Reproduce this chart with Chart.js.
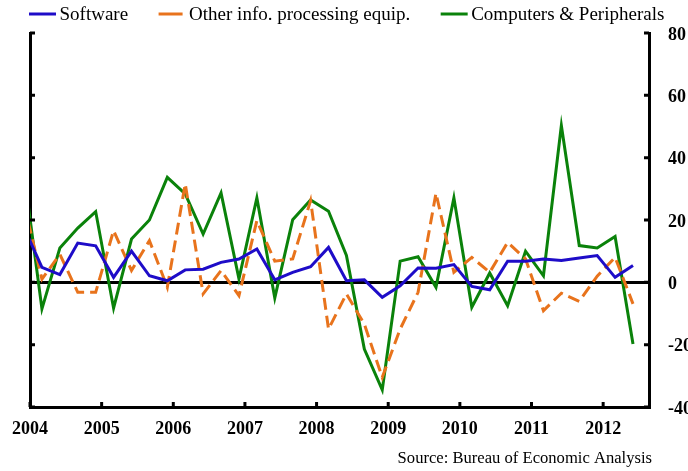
<!DOCTYPE html>
<html>
<head>
<meta charset="utf-8">
<script src="https://cdn.jsdelivr.net/npm/chart.js@4.4.1/dist/chart.umd.min.js"></script>
<style>
  html, body { margin: 0; padding: 0; background: #fff; }
  #chart { display: block; }
</style>
</head>
<body>
<canvas id="chart" width="688" height="471"></canvas>
<script>
// quarterly % change
const quarters = [
  "2003Q4",
  "2004Q1", "2004Q2", "2004Q3", "2004Q4",
  "2005Q1", "2005Q2", "2005Q3", "2005Q4",
  "2006Q1", "2006Q2", "2006Q3", "2006Q4",
  "2007Q1", "2007Q2", "2007Q3", "2007Q4",
  "2008Q1", "2008Q2", "2008Q3", "2008Q4",
  "2009Q1", "2009Q2", "2009Q3", "2009Q4",
  "2010Q1", "2010Q2", "2010Q3", "2010Q4",
  "2011Q1", "2011Q2", "2011Q3", "2011Q4",
  "2012Q1", "2012Q2"
];
const software = [17.5, 4.8, 2.5, 12.6, 11.7, 1.6, 10.0, 2.1, 0.5, 4.0, 4.2, 6.4, 7.5, 10.7, 0.8, 3.2, 5.0, 11.2, 0.5, 0.8, -4.8, -1.1, 4.6, 4.5, 5.7, -1.3, -2.4, 6.8, 6.8, 7.5, 7.0, 7.8, 8.6, 1.6, 5.4];
const otherEquip = [25, 1, 9, -3.2, -3.2, 16.6, 3.8, 13.4, -1.6, 31.6, -3.7, 3.8, -4.3, 19.8, 6.8, 7.5, 26.2, -15, -3.7, -13.4, -30.5, -15, -3.2, 28.6, 3.2, 8.0, 3.2, 12.8, 7.5, -9.1, -3.5, -6.1, 2, 8.0, -6.9];
const computers = [35, -8.5, 11.0, 17.4, 22.7, -8.3, 13.9, 20.0, 33.7, 28.4, 15.5, 28.7, 1.1, 27.1, -5.0, 20.1, 26.4, 22.8, 8.6, -21.4, -34.5, 6.8, 8.2, -1.6, 27.1, -8.0, 3.0, -7.5, 10.0, 2.1, 50.3, 11.8, 11.0, 14.7, -19.8];
const yearTicks = [2004, 2005, 2006, 2007, 2008, 2009, 2010, 2011, 2012];
const seriesNames = ["Software", "Other info. processing equip.", "Computers & Peripherals"];
const sourceNote = "Source: Bureau of Economic Analysis";

const serif = "'Liberation Serif', 'Times New Roman', serif";

// plot each quarter at its middle month
const quarterToYear = (q) => +q.slice(0, 4) + (3 * +q.slice(5) - 1) / 12;
const toPoints = (values) => values.map((v, i) => ({ x: quarterToYear(quarters[i]), y: v }));

const extras = {
  id: "extras",
  afterDraw(chart) {
    const { ctx, chartArea, scales } = chart;
    const yS = scales.y;
    const xS = scales.x;
    ctx.save();
    ctx.strokeStyle = "#000";
    ctx.lineWidth = 3;
    // inside tick marks
    yS.ticks.forEach((t) => {
      const py = yS.getPixelForValue(t.value);
      ctx.beginPath();
      ctx.moveTo(chartArea.left, py);
      ctx.lineTo(chartArea.left + 5, py);
      ctx.moveTo(chartArea.right, py);
      ctx.lineTo(chartArea.right - 5, py);
      ctx.stroke();
    });
    xS.ticks.forEach((t) => {
      const px = xS.getPixelForValue(t.value);
      ctx.beginPath();
      ctx.moveTo(px, chartArea.bottom);
      ctx.lineTo(px, chartArea.bottom - 5);
      ctx.stroke();
    });

    // legend: short solid line + label, left to right
    ctx.font = "19px " + serif;
    ctx.textBaseline = "middle";
    ctx.textAlign = "left";
    const slot = 30.5, itemGap = 30.5;
    let x = 29;
    const ly = 14;
    chart.data.datasets.forEach((ds) => {
      const len = ds.borderDash ? 24 : 27;
      ctx.strokeStyle = ds.borderColor;
      ctx.lineWidth = 3;
      ctx.beginPath();
      ctx.moveTo(x, ly);
      ctx.lineTo(x + len, ly);
      ctx.stroke();
      x += slot;
      ctx.fillStyle = "#000";
      ctx.fillText(ds.label, x, ly + 1);
      x += ctx.measureText(ds.label).width + itemGap;
    });

    // source note
    ctx.font = "16.6px " + serif;
    ctx.textAlign = "right";
    ctx.textBaseline = "alphabetic";
    ctx.fillText(sourceNote, 652, 463);
    ctx.restore();
  }
};

const tickFont = { family: serif, size: 18, weight: "bold" };

new Chart(document.getElementById("chart").getContext("2d"), {
  type: "line",
  data: {
    datasets: [
      {
        label: seriesNames[0],
        data: toPoints(software),
        borderColor: "#1e0cc8",
        borderWidth: 3,
        yAxisID: "y",
      },
      {
        label: seriesNames[1],
        data: toPoints(otherEquip),
        borderColor: "#e8731c",
        borderWidth: 3,
        borderDash: [12, 6],
        yAxisID: "y",
      },
      {
        label: seriesNames[2],
        data: toPoints(computers),
        borderColor: "#0a820a",
        borderWidth: 3,
        yAxisID: "y",
      },
    ],
  },
  options: {
    responsive: false,
    animation: false,
    clip: 0,
    layout: { padding: { top: 33 } },
    elements: {
      point: { radius: 0 },
      line: { tension: 0, borderJoinStyle: "miter", fill: false },
    },
    plugins: {
      legend: { display: false },
      tooltip: { enabled: false },
    },
    scales: {
      x: {
        type: "linear",
        min: 2004,
        max: 2012.64,
        afterBuildTicks: (s) => { s.ticks = yearTicks.map((v) => ({ value: v })); },
        afterFit: (s) => { s.height = 64; },
        grid: { display: false, drawTicks: false },
        border: { display: true, color: "#000", width: 3 },
        ticks: {
          color: "#000",
          padding: 12,
          font: tickFont,
          autoSkip: false,
          maxRotation: 0,
          callback: (v) => String(v),
        },
      },
      yLeft: {
        position: "left",
        min: -40,
        max: 80,
        ticks: { display: false, stepSize: 20 },
        grid: { display: false, drawTicks: false },
        border: { display: true, color: "#000", width: 3 },
        afterFit: (s) => { s.width = 29; },
      },
      y: {
        position: "right",
        min: -40,
        max: 80,
        ticks: {
          stepSize: 20,
          color: "#000",
          padding: 19,
          labelOffset: 2,
          crossAlign: "near",
          font: tickFont,
        },
        grid: {
          drawTicks: false,
          lineWidth: 3,
          color: (c) => (c.tick && c.tick.value === 0 ? "#000" : "rgba(0,0,0,0)"),
        },
        border: { display: true, color: "#000", width: 3 },
        afterFit: (s) => { s.width = 39; },
      },
    },
  },
  plugins: [extras],
});
</script>
</body>
</html>
